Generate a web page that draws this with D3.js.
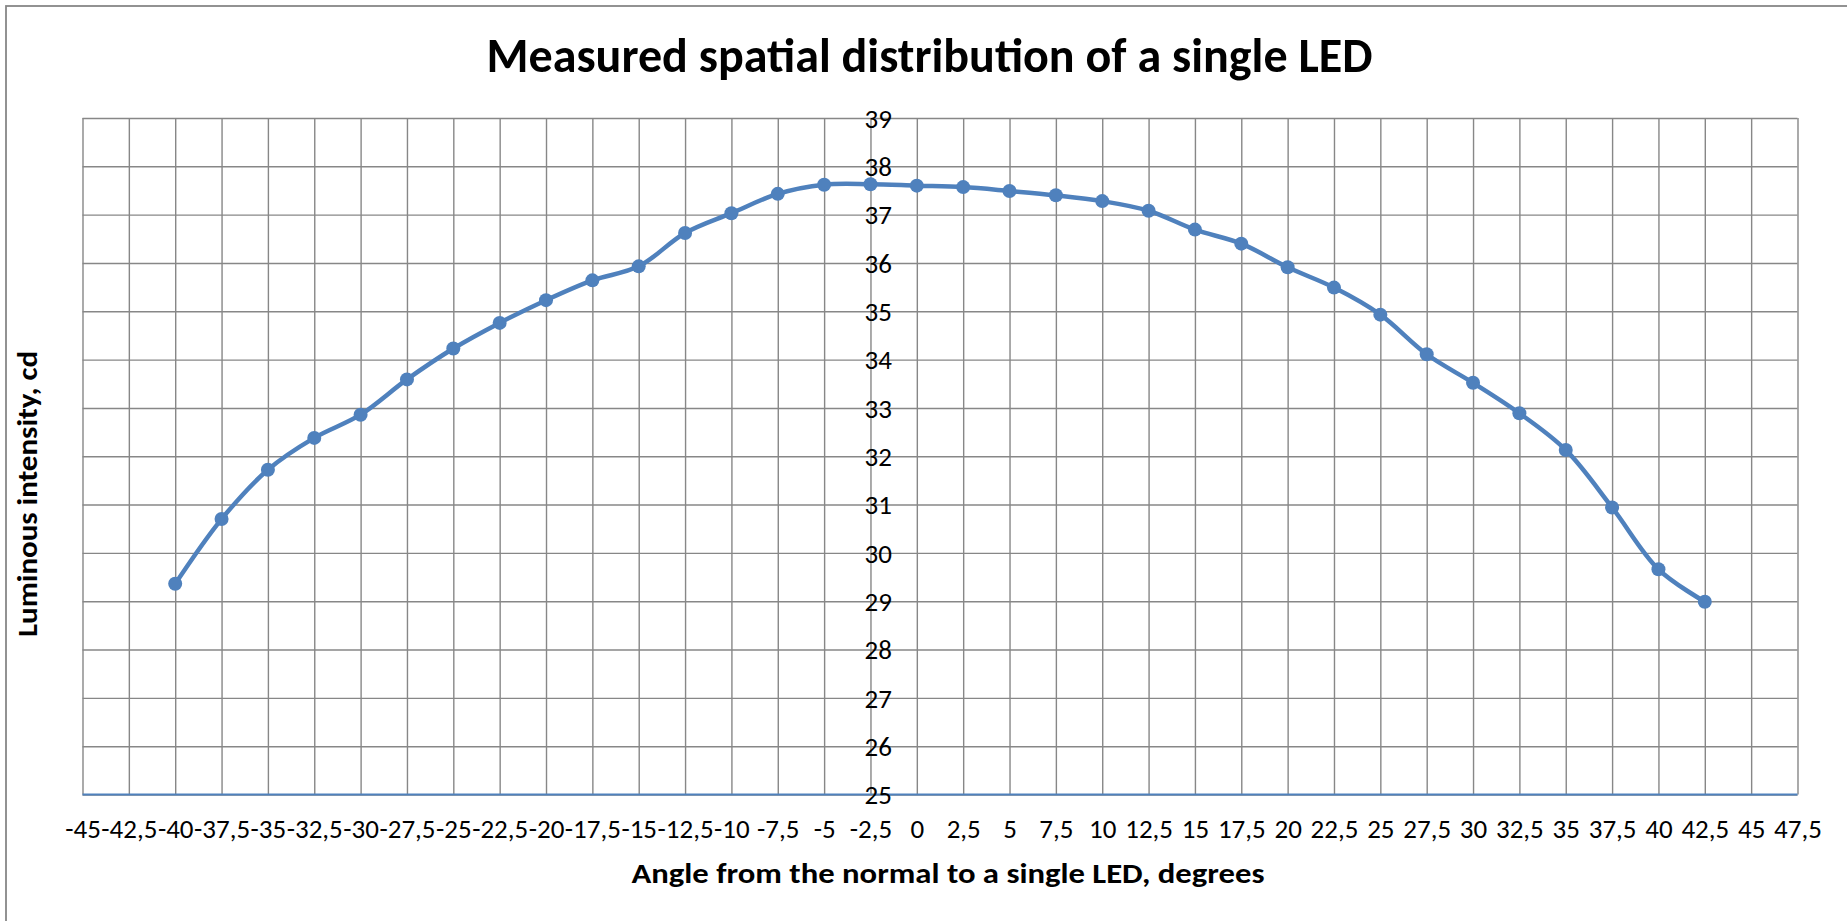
<!DOCTYPE html>
<html>
<head>
<meta charset="utf-8">
<script src="https://cdn.jsdelivr.net/npm/d3@7"></script>
<style>
  html, body { margin: 0; padding: 0; background: #ffffff; }
  svg { display: block; }
</style>
</head>
<body>
<svg id="chart" width="1847" height="921"></svg>
<script>
// ---------- DATA ----------
const chartTitle = "Measured spatial distribution of a single LED";
const xAxisTitle = "Angle from the normal to a single LED, degrees";
const yAxisTitle = "Luminous intensity, cd";

const angles = [-40, -37.5, -35, -32.5, -30, -27.5, -25, -22.5, -20, -17.5, -15, -12.5,
                -10, -7.5, -5, -2.5, 0, 2.5, 5, 7.5, 10, 12.5, 15, 17.5, 20, 22.5,
                25, 27.5, 30, 32.5, 35, 37.5, 40, 42.5];
const intensity = [29.36, 30.70, 31.72, 32.38, 32.86, 33.59, 34.23, 34.76, 35.23, 35.64, 35.93, 36.62,
                   37.03, 37.43, 37.62, 37.63, 37.60, 37.57, 37.49, 37.40, 37.28, 37.08, 36.69, 36.40,
                   35.91, 35.49, 34.93, 34.11, 33.52, 32.89, 32.13, 30.94, 29.66, 28.99];

const xTicks = [-45, -42.5, -40, -37.5, -35, -32.5, -30, -27.5, -25, -22.5, -20, -17.5, -15, -12.5,
                -10, -7.5, -5, -2.5, 0, 2.5, 5, 7.5, 10, 12.5, 15, 17.5, 20, 22.5, 25, 27.5,
                30, 32.5, 35, 37.5, 40, 42.5, 45, 47.5];
const xTickLabels = ["-45", "-42,5", "-40", "-37,5", "-35", "-32,5", "-30", "-27,5", "-25", "-22,5",
                     "-20", "-17,5", "-15", "-12,5", "-10", "-7,5", "-5", "-2,5", "0", "2,5", "5",
                     "7,5", "10", "12,5", "15", "17,5", "20", "22,5", "25", "27,5", "30", "32,5",
                     "35", "37,5", "40", "42,5", "45", "47,5"];
const yTicks = [25, 26, 27, 28, 29, 30, 31, 32, 33, 34, 35, 36, 37, 38, 39];

// ---------- LAYOUT ----------
const W = 1847, H = 921;
const plot = { left: 82.5, right: 1797.5, top: 118, bottom: 794.5 };
const FONT = "Carlito, Calibri, Lato, 'Open Sans', sans-serif";
const BLUE = "#4f81bd";
const GRID = "#878787";

const svg = d3.select("#chart");

const x = d3.scaleLinear().domain([-45, 47.5]).range([plot.left, plot.right]);
const y = d3.scaleLinear().domain([25, 39]).range([plot.bottom, plot.top]);

// outer chart border (extends past the window on right/bottom)
svg.append("rect")
  .attr("x", 6).attr("y", 6)
  .attr("width", W + 20).attr("height", H + 20)
  .attr("fill", "#ffffff")
  .attr("stroke", GRID).attr("stroke-width", 1.8);

// vertical gridlines
const gx = svg.append("g")
  .attr("transform", `translate(0,${plot.bottom})`)
  .call(d3.axisBottom(x).tickValues(xTicks).tickSize(-(plot.bottom - plot.top)).tickFormat(""));
gx.select(".domain").remove();
gx.selectAll(".tick line").attr("stroke", GRID).attr("stroke-width", 1.4);

// horizontal gridlines
const gy = svg.append("g")
  .attr("transform", `translate(${plot.left},0)`)
  .call(d3.axisLeft(y).tickValues(yTicks).tickSize(-(plot.right - plot.left)).tickFormat(""));
gy.select(".domain").remove();
gy.selectAll(".tick line").attr("stroke", GRID).attr("stroke-width", 1.4);

// horizontal axis line (blue)
svg.append("line")
  .attr("x1", plot.left).attr("x2", plot.right)
  .attr("y1", y(25)).attr("y2", y(25))
  .attr("stroke", BLUE).attr("stroke-width", 1.8);

// x tick labels
const xLab = svg.append("g")
  .attr("transform", `translate(0,${plot.bottom + 43})`)
  .call(d3.axisBottom(x).tickValues(xTicks).tickSize(0).tickPadding(0)
        .tickFormat((d, i) => xTickLabels[i]));
xLab.select(".domain").remove();
xLab.attr("font-family", null).attr("font-size", null);
xLab.selectAll("text")
  .style("font-family", FONT).style("font-size", "27px").attr("fill", "#000")
  .attr("dy", 0);

// y tick labels (vertical axis crosses at x = 0)
const yLab = svg.append("g")
  .attr("transform", `translate(${x(0) - 25},0)`)
  .call(d3.axisLeft(y).tickValues(yTicks).tickSize(0).tickPadding(0).tickFormat(d3.format("d")));
yLab.select(".domain").remove();
yLab.attr("font-family", null).attr("font-size", null);
yLab.selectAll("text")
  .style("font-family", FONT).style("font-size", "27px").attr("fill", "#000")
  .attr("dy", "0.34em");

// series line
const pts = angles.map((a, i) => [a, intensity[i]]);
svg.append("path")
  .datum(pts)
  .attr("fill", "none")
  .attr("stroke", BLUE)
  .attr("stroke-width", 4.5)
  .attr("stroke-linejoin", "round")
  .attr("d", d3.line().x(d => x(d[0])).y(d => y(d[1])).curve(d3.curveCatmullRom.alpha(0.5)));

// markers
svg.append("g").selectAll("circle")
  .data(pts).join("circle")
  .attr("cx", d => x(d[0])).attr("cy", d => y(d[1]))
  .attr("r", 7)
  .attr("fill", BLUE);

// title
svg.append("text")
  .attr("x", 929.5).attr("y", 72)
  .attr("text-anchor", "middle")
  .style("font-family", FONT).style("font-weight", "bold").style("font-size", "48px")
  .attr("textLength", 886).attr("lengthAdjust", "spacingAndGlyphs")
  .attr("fill", "#000")
  .text(chartTitle);

// x axis title
svg.append("text")
  .attr("x", 948).attr("y", 883)
  .attr("text-anchor", "middle")
  .style("font-family", FONT).style("font-weight", "bold").style("font-size", "29px")
  .attr("textLength", 633).attr("lengthAdjust", "spacingAndGlyphs")
  .attr("fill", "#000")
  .text(xAxisTitle);

// y axis title
svg.append("text")
  .attr("transform", "translate(37,494) rotate(-90)")
  .attr("text-anchor", "middle")
  .style("font-family", FONT).style("font-weight", "bold").style("font-size", "29px")
  .attr("textLength", 286).attr("lengthAdjust", "spacingAndGlyphs")
  .attr("fill", "#000")
  .text(yAxisTitle);
</script>
</body>
</html>
